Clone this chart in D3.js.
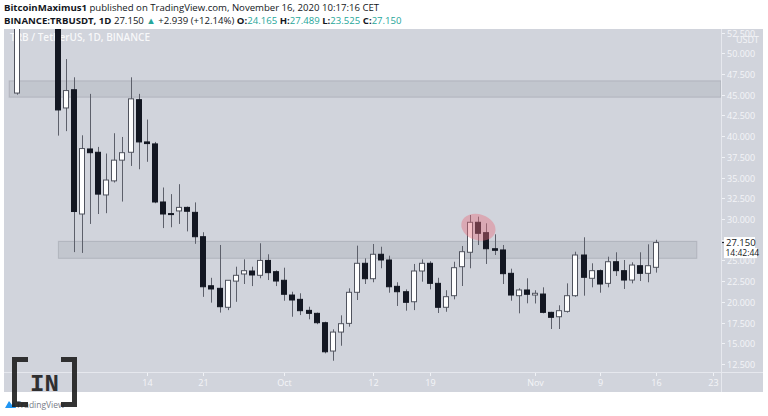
<!DOCTYPE html>
<html><head><meta charset="utf-8">
<script src="https://cdn.jsdelivr.net/npm/d3@7"></script>
<style>html,body{margin:0;padding:0;background:#fff;}svg{display:block;}</style>
</head><body>
<svg id="chart" width="768" height="416"></svg>
<script>
// ---- data ----
const dates = ["2020-08-29","2020-09-03","2020-09-04","2020-09-05","2020-09-06","2020-09-07","2020-09-08","2020-09-09","2020-09-10","2020-09-11","2020-09-12","2020-09-13","2020-09-14","2020-09-15","2020-09-16","2020-09-17","2020-09-18","2020-09-19","2020-09-20","2020-09-21","2020-09-22","2020-09-23","2020-09-24","2020-09-25","2020-09-26","2020-09-27","2020-09-28","2020-09-29","2020-09-30","2020-10-01","2020-10-02","2020-10-03","2020-10-04","2020-10-05","2020-10-06","2020-10-07","2020-10-08","2020-10-09","2020-10-10","2020-10-11","2020-10-12","2020-10-13","2020-10-14","2020-10-15","2020-10-16","2020-10-17","2020-10-18","2020-10-19","2020-10-20","2020-10-21","2020-10-22","2020-10-23","2020-10-24","2020-10-25","2020-10-26","2020-10-27","2020-10-28","2020-10-29","2020-10-30","2020-10-31","2020-11-01","2020-11-02","2020-11-03","2020-11-04","2020-11-05","2020-11-06","2020-11-07","2020-11-08","2020-11-09","2020-11-10","2020-11-11","2020-11-12","2020-11-13","2020-11-14","2020-11-15","2020-11-16"];
const opens  = [45.2,55.5,43.4,45.6,30.6,38.45,38.05,32.9,34.6,37.1,38.05,44.4,39.3,39.06,32.05,30.65,30.97,31.4,30.8,27.86,21.94,21.63,19.34,22.5,23.36,23.72,23.2,25.0,23.64,22.6,20.82,20.3,18.97,18.61,17.48,14.06,16.35,17.4,21.15,24.65,22.79,25.74,25.05,21.87,21.22,20.01,23.72,24.65,22.23,19.34,20.74,24.24,25.98,29.6,28.35,26.41,26.26,23.44,20.74,21.43,20.82,20.94,18.73,18.2,18.85,20.74,25.65,22.84,23.76,22.23,24.84,23.76,22.63,24.36,23.44,24.165];
const highs  = [57.0,56.5,49.3,47.1,40.1,45.1,38.7,37.9,40.35,39.9,47.1,45.1,42.0,39.3,33.8,33.0,34.2,31.5,32.0,28.4,22.9,26.86,22.6,24.24,25.13,24.24,27.07,25.74,23.8,24.12,21.22,21.03,19.41,18.7,17.6,16.68,18.37,21.63,26.78,25.25,26.98,26.65,25.57,22.36,21.5,24.57,25.13,24.9,22.9,21.4,24.84,26.74,30.48,30.28,29.48,28.15,26.86,24.0,21.63,22.84,21.4,21.75,18.8,19.58,22.23,26.05,27.79,24.65,23.9,25.45,25.98,25.05,24.77,25.98,26.94,27.489];
const lows   = [45.0,40.06,40.6,26.0,25.9,29.4,30.6,30.7,34.4,32.1,36.4,36.0,36.9,31.9,28.9,29.0,29.4,28.5,27.0,20.6,19.9,18.7,19.0,20.0,22.15,21.9,22.84,22.63,21.9,20.13,18.2,18.4,17.89,17.3,13.78,12.89,14.7,17.0,20.22,22.15,22.36,24.05,21.1,19.5,18.93,19.0,22.43,21.5,18.65,18.8,20.3,21.91,24.05,26.86,24.57,25.65,22.15,20.13,18.61,19.82,19.8,18.61,16.72,16.72,18.7,20.6,20.74,21.75,21.1,21.75,23.12,21.55,22.23,22.51,22.36,23.525];
const closes = [55.0,43.16,45.5,30.9,38.5,38.0,33.0,34.7,37.1,38.0,44.5,39.3,39.1,32.05,30.6,30.6,31.4,30.93,27.86,21.82,21.55,19.41,22.6,23.2,23.76,23.24,25.0,23.52,22.51,20.91,20.22,18.93,18.61,17.48,13.97,16.35,17.36,21.15,24.65,22.79,25.74,25.05,21.82,21.22,19.94,23.72,24.65,22.23,19.34,20.62,24.12,26.05,29.6,28.27,26.41,26.22,23.4,20.82,21.43,20.91,21.03,18.73,18.13,18.93,20.74,25.65,22.96,23.76,22.15,24.84,23.76,22.63,24.44,23.44,24.36,27.15];
const yTicks = [12.5,15,17.5,20,22.5,25,27.5,30,32.5,35,37.5,40,42.5,45,47.5,50,52.5];
const xTickDates = ["2020-09-14","2020-09-21","2020-10-01","2020-10-12","2020-10-19","2020-11-01","2020-11-09","2020-11-16","2020-11-23"];
const xTickLabels = ["14","21","Oct","12","19","Nov","9","16","23"];
const zones = [{from:"2020-08-28", to:"2020-11-30", lo:44.7, hi:46.67},{from:"2020-09-03T02:00", to:"2020-11-21T00:00", lo:25.25, hi:27.3}];
const lastPrice = 27.15, countdown = "14:42:44";

// ---- layout ----
const svg = d3.select("#chart");
const P = {l:4, r:721, t:29, b:372, axR:763, axB:392};
const parse = s => new Date(s.length>10 ? s+"Z" : s+"T00:00:00Z");
const x = d3.scaleUtc().domain([parse("2020-09-14"), parse("2020-11-23")]).range([146.7, 713]);
const y = d3.scaleLinear().domain([11.53, 52.93]).range([P.b, P.t]);
const font = "'Open Sans', 'Noto Sans', sans-serif";

// background
svg.append("rect").attr("x",P.l).attr("y",P.t).attr("width",P.axR-P.l).attr("height",P.axB-P.t).attr("fill","#d1d4dc");
svg.append("line").attr("x1",P.l).attr("x2",P.axR).attr("y1",P.b+0.5).attr("y2",P.b+0.5).attr("stroke","#e6e8ee").attr("stroke-width",1);
svg.append("line").attr("x1",P.r+0.5).attr("x2",P.r+0.5).attr("y1",P.t).attr("y2",P.axB).attr("stroke","#e6e8ee").attr("stroke-width",1);

const defs = svg.append("defs");
defs.append("clipPath").attr("id","plotclip").append("rect").attr("x",P.l).attr("y",P.t).attr("width",P.r-P.l).attr("height",P.b-P.t);
defs.append("clipPath").attr("id","axclip").append("rect").attr("x",P.r).attr("y",P.t+1).attr("width",P.axR-P.r).attr("height",P.b-P.t);
const plot = svg.append("g").attr("clip-path","url(#plotclip)");

// zones
plot.selectAll("rect.zone").data(zones).join("rect").attr("class","zone")
  .attr("x",d=>Math.max(P.l+5, x(parse(d.from)))).attr("width",d=>Math.min(P.r, x(parse(d.to))) - Math.max(P.l+5, x(parse(d.from))))
  .attr("y",d=>y(d.hi)).attr("height",d=>y(d.lo)-y(d.hi))
  .attr("fill","rgba(120,123,134,0.16)").attr("stroke","rgba(120,123,134,0.28)").attr("stroke-width",1);

// watermark
plot.append("text").attr("x",10).attr("y",41).attr("font-family",font).attr("font-size",10).attr("font-weight",600)
  .attr("fill","rgba(255,255,255,0.85)").text("TRB / TetherUS, 1D, BINANCE");

// candles
const candles = dates.map((d,i)=>({date:parse(d),o:opens[i],h:highs[i],l:lows[i],c:closes[i]}));
const bw = 6;
const cg = plot.selectAll("g.c").data(candles).join("g").attr("class","c");
cg.append("line").attr("x1",d=>Math.round(x(d.date))+0.5).attr("x2",d=>Math.round(x(d.date))+0.5)
  .attr("y1",d=>y(d.h)).attr("y2",d=>y(d.l)).attr("stroke","#5d606b").attr("stroke-width",1);
cg.append("rect").attr("x",d=>Math.round(x(d.date))-bw/2+0.5).attr("width",bw-1)
  .attr("y",d=>y(Math.max(d.o,d.c))).attr("height",d=>Math.max(1,Math.abs(y(d.o)-y(d.c))))
  .attr("fill",d=>d.c>=d.o?"#ffffff":"#131722").attr("stroke",d=>d.c>=d.o?"#50535e":"#131722").attr("stroke-width",1);

// highlight ellipse
const ex = x(parse("2020-10-25")), ey = y(29.0);
plot.append("ellipse").attr("cx",ex).attr("cy",ey).attr("rx",17.5).attr("ry",13)
  .attr("transform",`rotate(18,${ex},${ey})`).attr("fill","rgba(232,110,125,0.42)");

// y axis (label hidden behind the last-price box is skipped)
const py = y(lastPrice);
const yg = svg.append("g").attr("clip-path","url(#axclip)");
yTicks.forEach(v=>{
  const yy = Math.round(y(v))+0.5;
  yg.append("line").attr("x1",P.r+1).attr("x2",P.r+4).attr("y1",yy).attr("y2",yy).attr("stroke","#f0f2f6");
  if (Math.abs(yy-py) < 8) return;
  yg.append("text").attr("x",P.r+6).attr("y",yy+3).attr("font-family",font).attr("font-size",9)
    .attr("fill","#f4f5f8").text(d3.format(".3f")(v));
});
svg.append("text").attr("x",736).attr("y",43).attr("font-family",font).attr("font-size",9).attr("fill","#f4f5f8").text("USDT");

// x axis
xTickDates.forEach((d,i)=>{
  const xx = Math.round(x(parse(d)))+0.5;
  svg.append("line").attr("x1",xx).attr("x2",xx).attr("y1",P.b+1).attr("y2",P.b+4).attr("stroke","#f0f2f6");
  svg.append("text").attr("x",xx).attr("y",P.b+14).attr("text-anchor","middle").attr("font-family",font).attr("font-size",9)
    .attr("fill","#f4f5f8").text(xTickLabels[i]);
});

// price label
svg.append("line").attr("x1",P.r+1).attr("x2",P.r+4).attr("y1",py).attr("y2",py).attr("stroke","#131722");
svg.append("rect").attr("x",724).attr("y",py-5.5).attr("width",31).attr("height",11).attr("fill","#ffffff");
svg.append("text").attr("x",726).attr("y",py+3.5).attr("font-family",font).attr("font-size",9.5).attr("fill","#131722").text(d3.format(".3f")(lastPrice));
svg.append("rect").attr("x",724).attr("y",py+5.5).attr("width",33).attr("height",10).attr("fill","#ffffff");
svg.append("text").attr("x",725.5).attr("y",py+13.5).attr("font-family",font).attr("font-size",8.5).attr("fill","#131722").text(countdown);

// header
const h1 = svg.append("text").attr("x",4).attr("y",11).attr("font-family",font).attr("font-size",9.6).attr("fill","#131722");
h1.append("tspan").attr("font-weight",700).text("BitcoinMaximus1");
h1.append("tspan").text(" published on TradingView.com, November 16, 2020 10:17:16 CET");
const teal = "#26a69a";
const h2 = svg.append("text").attr("x",4).attr("y",24).attr("font-family",font).attr("font-size",9.6).attr("fill","#131722");
h2.append("tspan").attr("font-weight",700).text("BINANCE:TRBUSDT, 1D");
h2.append("tspan").text(" 27.150 ");
h2.append("tspan").attr("fill",teal).text("▲");
h2.append("tspan").text(" +2.939 (+12.14%) ");
[["O:","24.165"],["H:","27.489"],["L:","23.525"],["C:","27.150"]].forEach(([k,v],i)=>{
  h2.append("tspan").attr("font-weight",700).text((i?" ":"")+k);
  h2.append("tspan").attr("fill",teal).text(v);
});

// TradingView mark
svg.append("path").attr("d","M5,408 L9,401 L12,405 L14,402 L16,408 Z").attr("fill","#2196f3");
svg.append("text").attr("x",16).attr("y",408).attr("font-family",font).attr("font-size",8.5).attr("fill","#7a7d88").text("TradingView");

// BeInCrypto logo
const lg = svg.append("g").attr("fill","#1e1e1e").attr("opacity",0.9);
lg.append("path").attr("d","M12,357 H28 V362 H17 V402 H28 V407 H12 Z");
lg.append("path").attr("d","M77,357 H61 V362 H72 V402 H61 V407 H77 Z");
lg.append("text").attr("x",44.5).attr("y",391).attr("text-anchor","middle").attr("font-family","'Liberation Mono', 'DejaVu Sans Mono', monospace")
  .attr("font-weight",700).attr("font-size",24).text("IN");
</script>
</body></html>
